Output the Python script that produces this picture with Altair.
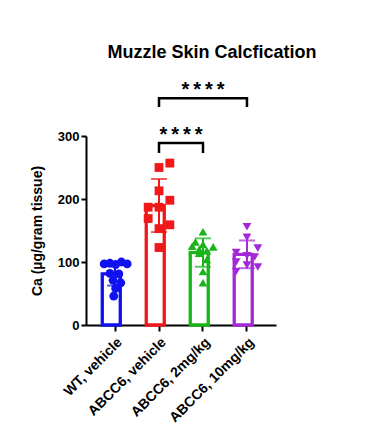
import altair as alt
import pandas as pd

# ---- data ----
groups = ["WT, vehicle", "ABCC6, vehicle", "ABCC6, 2mg/kg", "ABCC6, 10mg/kg"]
colors = ["#1010f0", "#f01818", "#18b418", "#a328d8"]
shapes = ["circle", "square", "triangle-up", "triangle-down"]

wt_vals = [97, 98, 96, 100, 97, 82, 81, 71, 67, 58, 46]
wt_jit = [-0.85, -0.4, 0.05, 0.5, 0.95, -0.4, 0.3, -0.15, 0.45, 0.05, -0.1]

veh_vals = [257, 250, 213, 198, 187, 187, 169, 159, 153, 123]
veh_jit = [0.85, 0.0, 0.0, 0.85, -0.85, 0.0, -0.85, 0.85, 0.0, 0.0]

mg2_vals = [148, 132, 128, 125, 124, 120, 118, 114, 104, 85, 67]
mg2_jit = [0.0, -0.6, 0.0, -0.85, 0.8, -0.3, 0.3, -0.3, 0.3, 0.0, 0.0]

mg10_vals = [156, 139, 122, 115, 110, 108, 100, 95, 92, 85]
mg10_jit = [0.0, 0.0, 0.85, -0.85, 0.0, 0.6, -0.85, 0.0, 0.85, -0.85]

STARS = "*\u2009*\u2009*\u2009*"
# significance annotations: (group A, group B, bracket level, drop, label)
brackets = [
    ("ABCC6, vehicle", "ABCC6, 2mg/kg", 289, 273, STARS),
    ("ABCC6, vehicle", "ABCC6, 10mg/kg", 360, 346, STARS),
]

rows = []
for g, vals, jit in zip(groups, [wt_vals, veh_vals, mg2_vals, mg10_vals],
                        [wt_jit, veh_jit, mg2_jit, mg10_jit]):
    for v, j in zip(vals, jit):
        rows.append({"group": g, "value": v, "jit": j})
df = pd.DataFrame(rows)

brows = []
for i, (a, b, top, low, lab) in enumerate(brackets):
    brows += [
        {"b": i, "o": 0, "group": a, "y": low},
        {"b": i, "o": 1, "group": a, "y": top},
        {"b": i, "o": 2, "group": b, "y": top},
        {"b": i, "o": 3, "group": b, "y": low},
    ]
bdf = pd.DataFrame(brows)

FONT = "Liberation Sans"

xscale = alt.Scale(domain=groups, paddingInner=0.42, paddingOuter=0.37)
yscale = alt.Scale(domain=[0, 300], nice=False)
cscale = alt.Scale(domain=groups, range=colors)

x_enc = alt.X("group:N", scale=xscale, sort=groups,
              axis=alt.Axis(title=None, labelAngle=-45, labelFontSize=14,
                            labelFontWeight="bold", labelFont=FONT,
                            labelColor="black", tickSize=6, tickWidth=2,
                            tickColor="black", domainColor="black",
                            domainWidth=2, labelPadding=4))
y_axis = alt.Axis(title="Ca (µg/gram tissue)", values=[0, 100, 200, 300],
                  titleFontSize=14, titleFont=FONT, titleFontWeight="bold",
                  titleColor="black", titlePadding=13,
                  labelFontSize=13, labelFont=FONT, labelFontWeight="bold",
                  labelColor="black", tickSize=5, tickWidth=2,
                  tickColor="black", domainColor="black", domainWidth=2,
                  grid=False, labelPadding=2)

base = alt.Chart(df)

bars = base.mark_bar(fill="white", strokeWidth=3.3).encode(
    x=x_enc,
    y=alt.Y("mean(value):Q", scale=yscale, axis=y_axis),
    stroke=alt.Color("group:N", scale=cscale, legend=None),
)

err = base.mark_errorbar(extent="stdev", ticks={"size": 16}, thickness=2).encode(
    x=alt.X("group:N", scale=xscale, sort=groups),
    y=alt.Y("value:Q", scale=yscale, title="Ca (µg/gram tissue)"),
    color=alt.Color("group:N", scale=cscale, legend=None),
)

pts = base.mark_point(filled=True, size=78, opacity=1).encode(
    x=alt.X("group:N", scale=xscale, sort=groups),
    xOffset=alt.XOffset("jit:Q", scale=alt.Scale(domain=[-1, 1])),
    y=alt.Y("value:Q", scale=yscale),
    color=alt.Color("group:N", scale=cscale, legend=None),
    shape=alt.Shape("group:N", scale=alt.Scale(domain=groups, range=shapes),
                    legend=None),
)

brk = alt.Chart(bdf).mark_line(color="black", strokeWidth=2.5).encode(
    x=alt.X("group:N", scale=xscale, sort=groups),
    y=alt.Y("y:Q", scale=yscale),
    detail="b:N",
    order="o:Q",
)

star_df1 = pd.DataFrame([{"group": brackets[0][0], "y": brackets[0][2] + 13,
                          "t": brackets[0][4]}])
star_df2 = pd.DataFrame([{"group": groups[2], "y": brackets[1][2] + 13,
                          "t": brackets[1][4]}])

stars1 = alt.Chart(star_df1).mark_text(font=FONT, fontSize=20, fontWeight="bold",
                                       dx=22, baseline="middle").encode(
    x=alt.X("group:N", scale=xscale, sort=groups),
    y=alt.Y("y:Q", scale=yscale), text="t:N")
stars2 = alt.Chart(star_df2).mark_text(font=FONT, fontSize=20, fontWeight="bold",
                                       baseline="middle").encode(
    x=alt.X("group:N", scale=xscale, sort=groups),
    y=alt.Y("y:Q", scale=yscale), text="t:N")

chart = alt.layer(bars, err, pts, brk, stars1, stars2).properties(
    width=190, height=189,
    title=alt.TitleParams("Muzzle Skin Calcfication", font=FONT, fontSize=18,
                          fontWeight="bold", color="black", anchor="middle",
                          dx=31, offset=18),
    autosize="none",
    padding={"left": 78, "top": 128, "right": 80, "bottom": 112},
).configure_view(stroke=None)

chart.save("out.html", embed_options={"renderer": "svg", "actions": False})
